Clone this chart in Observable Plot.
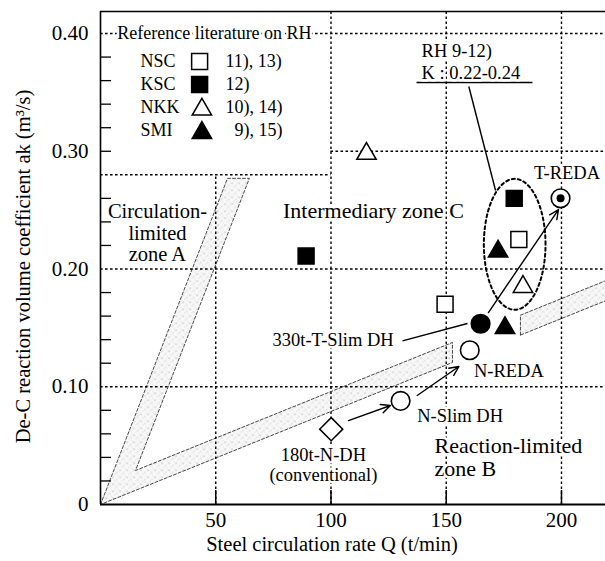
<!DOCTYPE html>
<html><head><meta charset="utf-8">
<script src="https://cdn.jsdelivr.net/npm/d3@7"></script>
<script src="https://cdn.jsdelivr.net/npm/@observablehq/plot@0.6"></script>
<style>body{margin:0;background:#fff} #chart svg{display:block}</style>
</head><body>
<svg width="0" height="0" style="position:absolute"><defs>
<pattern id="stipple" width="7" height="7" patternUnits="userSpaceOnUse">
<rect width="7" height="7" fill="#f8f8f8"/>
<circle cx="0.8" cy="0.8" r="0.55" fill="#7a7a7a"/>
<circle cx="4.2" cy="2.9" r="0.5" fill="#9a9a9a"/>
<circle cx="5.6" cy="5.9" r="0.45" fill="#b0b0b0"/>
<circle cx="2.3" cy="4.8" r="0.45" fill="#a8a8a8"/>
<circle cx="6.2" cy="0.9" r="0.4" fill="#c4c4c4"/>
</pattern></defs></svg>
<div id="chart"></div>
<script>
// ---- scales / axes
const X_MAX = 219.1, Y_MAX = 0.4187;
const xTickValues = [50, 100, 150, 200];
const yTickValues = [0, 0.10, 0.20, 0.30, 0.40];
const yMinorTickValues = [0.02,0.04,0.06,0.08,0.12,0.14,0.16,0.18,0.22,0.24,0.26,0.30,0.32,0.34,0.36,0.38];
const gridXValues = [50, 100, 150, 200];
const gridYValues = [0.10, 0.20, 0.30, 0.40];
const legendBoxQ = 100, legendBoxAk = 0.28;

// ---- reference literature on RH
const refCompany = ["NSC", "KSC", "NKK", "SMI"];
const refSymbol = ["square", "square", "triangle", "triangle"];
const refFilled = [false, true, false, true];
const refCitation = ["11), 13)", "12)", "10), 14)", "\u20079), 15)"];
const refQ = [[149.5, 181.5], [89.2, 179.5], [115.4, 183.3], [172.5, 175.5]];
const refAk = [[0.170, 0.225], [0.211, 0.260], [0.300, 0.187], [0.217, 0.152]];

// ---- DH / REDA cases
const caseName = ["180t-N-DH", "N-Slim DH", "N-REDA", "330t-T-Slim DH", "T-REDA"];
const caseQ = [100.1, 130.2, 160.2, 164.9, 199.6];
const caseAk = [0.064, 0.088, 0.131, 0.1535, 0.260];
const caseSymbol = ["diamond2", "circle", "circle", "circle", "circle"];
const caseFilled = [false, false, false, true, false];

// ---- annotation layout
const caseLabelText = ["180t-N-DH\n(conventional)", "N-Slim DH", "N-REDA", "330t-T-Slim DH", "T-REDA"];
const caseLabelQ = [96.7, 137.4, 162.0, 127.2, 202.4];
const caseLabelAk = [0.034, 0.0753, 0.113, 0.1393, 0.282];
const caseLabelAnchor = ["middle", "start", "start", "end", "middle"];
const arrowFrom = [[107.6, 0.0713], [137.4, 0.0926], [168.3, 0.163]];
const arrowTo = [[125.8, 0.0841], [155.5, 0.1172], [198.7, 0.2505]];
const leaderFrom = [[131.0, 0.139], [159.8, 0.355]];
const leaderTo = [[159.2, 0.1537], [171.4, 0.2667]];
const zoneText = ["Circulation-\nlimited\nzone A", "Intermediary zone C", "Reaction-limited\nzone B"];
const zoneQ = [24.7, 118.4, 144.9];
const zoneAk = [0.231, 0.2497, 0.0405];
const zoneAnchor = ["middle", "middle", "start"];
const zoneFontSize = [20.5, 22, 22];
const rhText = ["RH 9-12)", "K : 0.22-0.24"];
const rhQ = 139.3, rhAk = [0.3847, 0.3665];
const rhUnderline = {Q1: 137.1, Q2: 187.4, ak: 0.3584};
const ellipse = {Q: 179.7, ak: 0.221, rQ: 13.38, rAk: 0.0556};
const legendTitle = "Reference literature on RH";
const legendTitleQ = 7.25, legendTitleAk = 0.40;
const legendRowAk = [0.3762, 0.3567, 0.3376, 0.3178];
const legendNameQ = 17.35, legendSymbolQ = 43.0, legendCitationQ = 54.2;
// shaded regions (Q, ak) polygons
const bandLeft = [[0, 0], [55.1, 0.277], [64.6, 0.277], [15.2, 0.0289], [152.7, 0.1376], [152.7, 0.1206], [0, 0]];
const bandRight = [[182.2, 0.1439], [182.2, 0.1608], [219.1, 0.190], [219.1, 0.173], [182.2, 0.1439]];
const xTitle = "Steel circulation rate Q (t/min)";
const yTitle = "De-C reaction volume coefficient ak (m\u00B3/s)";

// ---- derived tables
const refPoints = refCompany.flatMap((c, i) => refQ[i].map((q, j) => ({company: c, symbol: refSymbol[i], filled: refFilled[i], Q: q, ak: refAk[i][j]})));
const legendRows = refCompany.map((c, i) => ({company: c, symbol: refSymbol[i], filled: refFilled[i], citation: refCitation[i], ak: legendRowAk[i]}));
const cases = caseName.map((n, i) => ({name: n, Q: caseQ[i], ak: caseAk[i], symbol: caseSymbol[i], filled: caseFilled[i]}));
const caseLabels = caseLabelText.map((t, i) => ({text: t, Q: caseLabelQ[i], ak: caseLabelAk[i], anchor: caseLabelAnchor[i]}));
const arrows = arrowFrom.map((f, i) => ({x1: f[0], y1: f[1], x2: arrowTo[i][0], y2: arrowTo[i][1]}));
const leaders = leaderFrom.map((f, i) => ({x1: f[0], y1: f[1], x2: leaderTo[i][0], y2: leaderTo[i][1]}));
const zones = zoneText.map((t, i) => ({text: t, Q: zoneQ[i], ak: zoneAk[i], anchor: zoneAnchor[i], size: zoneFontSize[i]}));
const ellipsePts = d3.range(0, 361, 3).map(a => ({Q: ellipse.Q + ellipse.rQ * Math.cos(a * Math.PI / 180), ak: ellipse.ak + ellipse.rAk * Math.sin(a * Math.PI / 180)}));
const toPts = arr => arr.map(([Q, ak]) => ({Q, ak}));
const W = 605, H = 561, mL = 100, mR = 0, mT = 11, mB = 57;
const qPerPx = X_MAX / (W - mL - mR), akPerPx = Y_MAX / (H - mT - mB);

const grid = {stroke: "black", strokeWidth: 1.4, strokeDasharray: "2.6,2.4"};
const halo = {stroke: "white", strokeWidth: 5, fill: "black"};
const band = {x: "Q", y: "ak", fill: "url(#stipple)", stroke: "#333", strokeWidth: 0.9, strokeDasharray: "3,2", curve: "linear-closed"};

const chart = Plot.plot({
  width: W, height: H,
  marginLeft: mL, marginRight: mR, marginTop: mT, marginBottom: mB,
  x: {domain: [0, X_MAX]},
  y: {domain: [0, Y_MAX]},
  style: {fontFamily: "'Liberation Serif', 'Times New Roman', serif", fontSize: "18px", background: "white", color: "black"},
  marks: [
    // shaded bands
    Plot.line(toPts(bandLeft), band),
    Plot.line(toPts(bandRight), band),
    // dotted grid
    Plot.ruleX(gridXValues, {x: d => d, y1: 0, y2: d => d < legendBoxQ ? legendBoxAk : Y_MAX, ...grid}),
    Plot.ruleY(gridYValues, {y: d => d, x1: d => d === 0.30 ? legendBoxQ : 0, x2: X_MAX, ...grid}),
    Plot.ruleY([legendBoxAk], {y: d => d, x1: 0, x2: legendBoxQ, ...grid}),
    // frame
    Plot.ruleX([0], {x: d => d, y1: 0, y2: Y_MAX, strokeWidth: 1.6}),
    Plot.ruleY([Y_MAX], {y: d => d, x1: 0, x2: X_MAX, strokeWidth: 1.5}),
    Plot.ruleY([0], {y: d => d, x1: 0, x2: X_MAX, strokeWidth: 2.2}),
    // inward ticks
    Plot.ruleY(yMinorTickValues, {y: d => d, x1: 0, x2: 11 * qPerPx, strokeWidth: 1.3}),
    Plot.ruleX(xTickValues, {x: d => d, y1: 0, y2: 14 * akPerPx, strokeWidth: 1.5}),
    // tick labels
    Plot.axisX(xTickValues, {tickSize: 0, tickPadding: 8, fontSize: 21, label: null, tickFormat: d => String(d)}),
    Plot.axisY(yTickValues, {tickSize: 0, tickPadding: 12, fontSize: 21, label: null, tickFormat: d => d === 0 ? "0" : d.toFixed(2)}),
    // axis titles
    Plot.text([xTitle], {frameAnchor: "bottom", textAnchor: "middle", dx: -21, dy: 46.5, fontSize: 20.5, text: d => d}),
    Plot.text([yTitle], {frameAnchor: "left", textAnchor: "middle", dx: -77, dy: 8.5, rotate: -90, fontSize: 20.5, text: d => d}),
    // ellipse & lines
    Plot.line(ellipsePts, {x: "Q", y: "ak", strokeWidth: 2, strokeDasharray: "3,3", stroke: "black"}),
    Plot.link([rhUnderline], {x1: "Q1", x2: "Q2", y1: "ak", y2: "ak", strokeWidth: 1.6}),
    Plot.link(leaders, {x1: "x1", y1: "y1", x2: "x2", y2: "y2", strokeWidth: 1.4}),
    Plot.arrow(arrows, {x1: "x1", y1: "y1", x2: "x2", y2: "y2", strokeWidth: 1.4, headLength: 11, headAngle: 50}),
    // zone texts
    Plot.text(zones.filter(d => d.anchor === "middle"), {x: "Q", y: "ak", text: "text", textAnchor: "middle", fontSize: "size", lineHeight: 1.07, ...halo}),
    Plot.text(zones.filter(d => d.anchor === "start"), {x: "Q", y: "ak", text: "text", textAnchor: "start", fontSize: "size", lineHeight: 1.07, ...halo}),
    // case labels
    Plot.text(caseLabels.filter(d => d.anchor === "start"), {x: "Q", y: "ak", text: "text", textAnchor: "start", fontSize: 18.5, ...halo}),
    Plot.text(caseLabels.filter(d => d.anchor === "middle"), {x: "Q", y: "ak", text: "text", textAnchor: "middle", fontSize: 18.5, lineHeight: 1.08, ...halo}),
    Plot.text(caseLabels.filter(d => d.anchor === "end"), {x: "Q", y: "ak", text: "text", textAnchor: "end", fontSize: 18.5, ...halo}),
    Plot.text(rhText, {x: rhQ, y: (d, i) => rhAk[i], text: d => d, textAnchor: "start", fontSize: 18.5, ...halo}),
    // legend
    Plot.text([legendTitle], {x: legendTitleQ, y: legendTitleAk, text: d => d, textAnchor: "start", fontSize: 18, ...halo}),
    Plot.text(legendRows, {x: legendNameQ, y: "ak", text: "company", textAnchor: "start", fontSize: 18}),
    Plot.text(legendRows, {x: legendCitationQ, y: "ak", text: "citation", textAnchor: "start", fontSize: 18}),
    Plot.dot(legendRows.filter(d => d.symbol === "square"), {x: legendSymbolQ, y: "ak", symbol: "square", r: 9, fill: d => d.filled ? "black" : "white", stroke: "black", strokeWidth: 1.5}),
    Plot.dot(legendRows.filter(d => d.symbol === "triangle"), {x: legendSymbolQ + 1, y: "ak", symbol: "triangle", r: 7.2, dy: 2.5, fill: d => d.filled ? "black" : "white", stroke: "black", strokeWidth: 1.5}),
    // reference points
    Plot.dot(refPoints.filter(d => d.symbol === "square"), {x: "Q", y: "ak", symbol: "square", r: 9, fill: d => d.filled ? "black" : "white", stroke: "black", strokeWidth: 1.5}),
    Plot.dot(refPoints.filter(d => d.symbol === "triangle"), {x: "Q", y: "ak", symbol: "triangle", r: 7.2, dy: 2.5, fill: d => d.filled ? "black" : "white", stroke: "black", strokeWidth: 1.5}),
    // DH / REDA cases
    Plot.dot(cases.filter(d => d.symbol === "circle"), {x: "Q", y: "ak", symbol: "circle", r: 9.3, fill: d => d.filled ? "black" : "white", stroke: "black", strokeWidth: 1.6}),
    Plot.dot(cases.filter(d => d.symbol === "diamond2"), {x: "Q", y: "ak", symbol: "diamond2", r: 10.4, fill: "white", stroke: "black", strokeWidth: 1.5}),
    Plot.dot(cases.filter(d => d.name === "T-REDA"), {x: "Q", y: "ak", r: 4, fill: "black"})
  ]
});
document.getElementById("chart").appendChild(chart);
</script>
</body></html>
